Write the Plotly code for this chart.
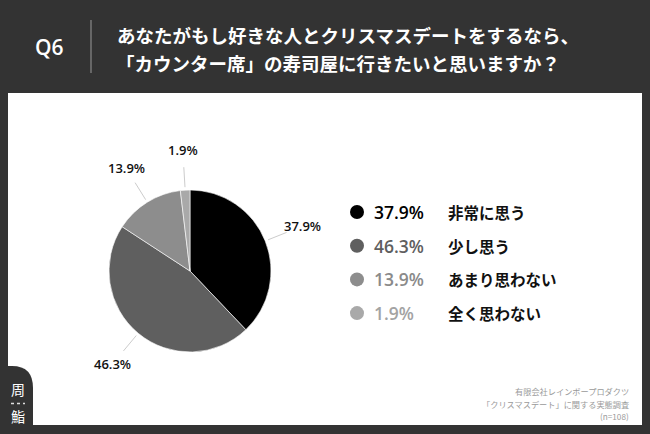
import math
import plotly.graph_objects as go

# ---- data ----
categories = ["非常に思う", "少し思う", "あまり思わない", "全く思わない"]
values = [37.9, 46.3, 13.9, 1.9]
pct_labels = ["37.9%", "46.3%", "13.9%", "1.9%"]
slice_colors = ["#000000", "#5f5f5f", "#8d8d8d", "#a9a9a9"]
legend_pct_colors = ["#000000", "#5f5f5f", "#8a8a8a", "#a3a3a3"]
title_lines = ["あなたがもし好きな人とクリスマスデートをするなら、",
               "「カウンター席」の寿司屋に行きたいと思いますか？"]
q_label = "Q6"
footer_lines = ["有限会社レインボープロダクツ",
                "「クリスマスデート」に関する実態調査",
                "(n=108)"]

W, H = 650, 434
BG = "#333333"
JP = "Noto Sans CJK JP"
LAT = "Open Sans, Noto Sans CJK JP"

# pie geometry (pixels)
cx, cy, R = 190, 271, 81

fig = go.Figure()

fig.add_trace(go.Pie(
    values=values, labels=categories, sort=False, direction="clockwise", rotation=0,
    marker=dict(colors=slice_colors, line=dict(color="#ffffff", width=0.6)),
    textinfo="none", hoverinfo="label+percent", showlegend=False,
    domain=dict(x=[(cx - R) / W, (cx + R) / W], y=[1 - (cy + R) / H, 1 - (cy - R) / H]),
))

shapes = []
annotations = []

# white panel
shapes.append(dict(type="rect", xref="x", yref="y", x0=8, x1=642, y0=93, y1=425,
                   fillcolor="#ffffff", line=dict(width=0), layer="below"))
# logo tab
shapes.append(dict(type="path", xref="x", yref="y",
                   path="M 0 366 L 12 366 Q 33 366 33 388 L 33 434 L 0 434 Z",
                   fillcolor=BG, line=dict(width=0), layer="above"))
# logo dots
shapes.append(dict(type="line", xref="x", yref="y", x0=11, x1=25, y0=403.5, y1=403.5,
                   line=dict(color="#dddddd", width=1.5, dash="dot"), layer="above"))
# header separator
shapes.append(dict(type="line", xref="x", yref="y", x0=91, x1=91, y0=20, y1=73,
                   line=dict(color="#8a8a8a", width=1.2)))

# pie labels + leader lines computed from the data
total = sum(values)
cum = 0.0
for v, lab in zip(values, pct_labels):
    mid = (cum + v / 2) / total * 2 * math.pi
    cum += v
    s, c = math.sin(mid), math.cos(mid)
    shapes.append(dict(type="line", xref="x", yref="y",
                       x0=cx + 84 * s, y0=cy - 84 * c, x1=cx + 104 * s, y1=cy - 104 * c,
                       line=dict(color="#cccccc", width=1)))
    annotations.append(dict(x=cx + 121 * s, y=cy - 121 * c, xref="x", yref="y",
                            text=lab, showarrow=False, xanchor="center", yanchor="middle",
                            font=dict(family=LAT, size=13, color="#111111", weight=600)))

# custom legend
leg_y = [212 + i * 33.7 for i in range(len(categories))]
fig.add_trace(go.Scatter(
    x=[357] * len(categories), y=leg_y, mode="markers",
    marker=dict(size=14, color=slice_colors, line=dict(width=0)),
    showlegend=False, hoverinfo="skip", xaxis="x", yaxis="y"))
for y, lab, cat, col in zip(leg_y, pct_labels, categories, legend_pct_colors):
    annotations.append(dict(x=372, y=y, xref="x", yref="y", text=lab,
                            showarrow=False, xanchor="left", yanchor="middle",
                            font=dict(family=LAT, size=17.5, color=col, weight=600)))
    annotations.append(dict(x=446, y=y, xref="x", yref="y", text="<b>" + cat + "</b>",
                            showarrow=False, xanchor="left", yanchor="middle",
                            font=dict(family=JP, size=15.5, color="#111111")))

# header text
annotations.append(dict(x=49, y=47, xref="x", yref="y", text=q_label,
                        showarrow=False, xanchor="center", yanchor="middle",
                        font=dict(family=LAT, size=21, color="#ffffff", weight=600)))
for i, t in enumerate(title_lines):
    annotations.append(dict(x=115 if i == 0 else 114, y=35 + i * 28, xref="x", yref="y",
                            text="<b>" + t + "</b>", showarrow=False,
                            xanchor="left", yanchor="middle",
                            font=dict(family=JP, size=18.5, color="#ffffff")))

# footer
for i, t in enumerate(footer_lines):
    annotations.append(dict(x=631, y=391 + i * 12.5, xref="x", yref="y", text=t,
                            showarrow=False, xanchor="right", yanchor="middle",
                            font=dict(family=JP, size=8.2, color="#9a9a9a")))

# logo
annotations.append(dict(x=18, y=389, xref="x", yref="y", text="周", showarrow=False,
                        xanchor="center", yanchor="middle",
                        font=dict(family=JP, size=14, color="#ffffff")))
annotations.append(dict(x=18, y=416, xref="x", yref="y", text="鮨", showarrow=False,
                        xanchor="center", yanchor="middle",
                        font=dict(family=JP, size=14, color="#ffffff")))

fig.update_layout(
    width=W, height=H, margin=dict(l=0, r=0, t=0, b=0),
    paper_bgcolor=BG, plot_bgcolor="rgba(0,0,0,0)",
    xaxis=dict(range=[0, W], visible=False, fixedrange=True, domain=[0, 1]),
    yaxis=dict(range=[H, 0], visible=False, fixedrange=True, domain=[0, 1]),
    shapes=shapes, annotations=annotations, showlegend=False,
)

fig.write_html("out.html")
